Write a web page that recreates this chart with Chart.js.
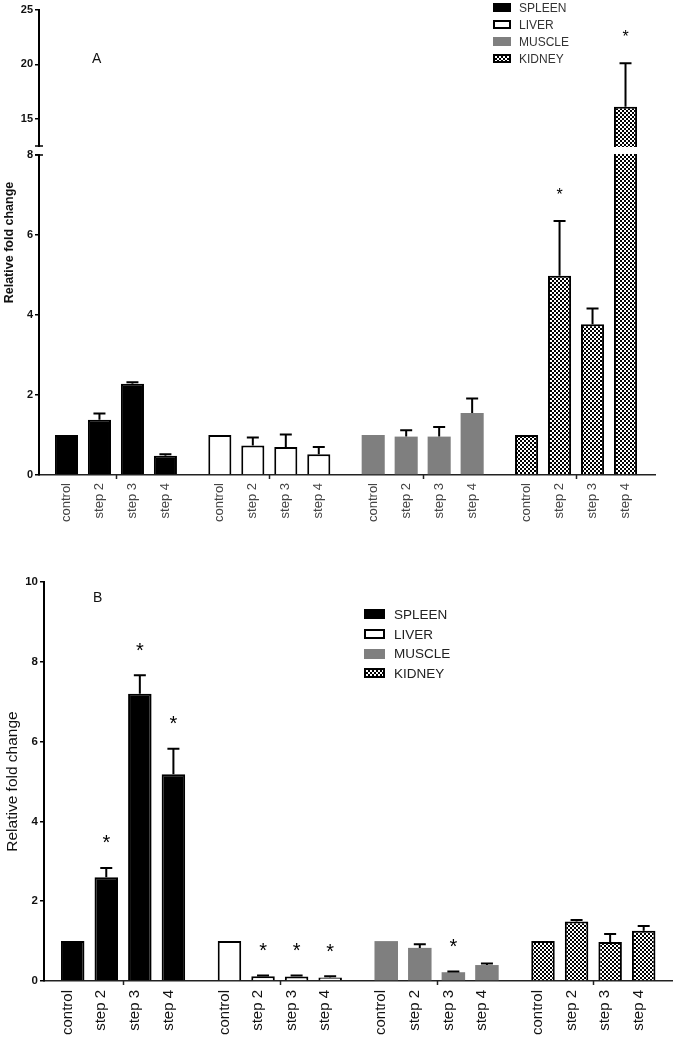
<!DOCTYPE html>
<html>
<head>
<meta charset="utf-8">
<script src="https://cdn.jsdelivr.net/npm/chart.js@4.4.1/dist/chart.umd.min.js"></script>
<style>
  html, body { margin: 0; padding: 0; background: #fff; }
  body { width: 675px; height: 1041px; position: relative; overflow: hidden;
         font-family: 'Liberation Sans', Arial, sans-serif; }
  .wrap { position: absolute; left: 0; width: 675px; }
  #wrapA { top: 0; height: 545px; }
  #wrapB { top: 545px; height: 496px; }
  .panel-letter { position: absolute; font-size: 14px; line-height: 14px; color: #111; }
  .legend-row { position: absolute; display: flex; align-items: center; white-space: nowrap; }
  .sw { box-sizing: border-box; display: inline-block; flex: none; }
  .sw.spleen { background: #000; }
  .sw.liver { background: #fff; border: 2px solid #000; }
  .sw.muscle { background: #7f7f7f; }
  .sw.kidney { border: 2px solid #000;
               background: repeating-conic-gradient(#000 0 25%, #fff 0 50%) 0 0 / 4px 4px; }
</style>
</head>
<body>
<div id="wrapA" class="wrap"><canvas id="chartA" width="675" height="545"></canvas></div>
<div id="wrapB" class="wrap"><canvas id="chartB" width="675" height="496"></canvas></div>
<div class="panel-letter" style="left:92px;top:51px;">A</div>
<div class="panel-letter" style="left:93px;top:590px;">B</div>
<div id="legendA"></div>
<div id="legendB"></div>
<script>
// ---------------- DATA ----------------
const ORGANS = ['SPLEEN', 'LIVER', 'MUSCLE', 'KIDNEY'];
const STEPS = ['control', 'step 2', 'step 3', 'step 4'];
const Y_TITLE = 'Relative fold change';

// Panel A (broken y axis 0-8 / 12.5-25)
const A_SPLEEN = [1.00, 1.38, 2.28, 0.48];
const A_SPLEEN_ERR = [0, 0.16, 0.04, 0.04];
const A_SPLEEN_SIG = [0, 0, 0, 0];
const A_LIVER = [1.00, 0.74, 0.70, 0.52];
const A_LIVER_ERR = [0, 0.20, 0.31, 0.18];
const A_LIVER_SIG = [0, 0, 0, 0];
const A_MUSCLE = [1.00, 0.96, 0.96, 1.55];
const A_MUSCLE_ERR = [0, 0.16, 0.24, 0.36];
const A_MUSCLE_SIG = [0, 0, 0, 0];
const A_KIDNEY = [1.00, 4.98, 3.77, 16.1];
const A_KIDNEY_ERR = [0, 1.37, 0.39, 4.0];
const A_KIDNEY_SIG = [0, 1, 0, 1];
const A_Y_TICKS = [0, 2, 4, 6, 8, 15, 20, 25];
const A_Y_BREAK = [8, 12.5];
const A_Y_MAX = 25;

// Panel B
const B_SPLEEN = [1.00, 2.60, 7.20, 5.18];
const B_SPLEEN_ERR = [0, 0.23, 0.46, 0.64];
const B_SPLEEN_SIG = [0, 1, 1, 1];
const B_LIVER = [1.00, 0.12, 0.11, 0.09];
const B_LIVER_ERR = [0, 0.02, 0.03, 0.03];
const B_LIVER_SIG = [0, 1, 1, 1];
const B_MUSCLE = [1.00, 0.83, 0.22, 0.40];
const B_MUSCLE_ERR = [0, 0.09, 0.02, 0.04];
const B_MUSCLE_SIG = [0, 0, 1, 0];
const B_KIDNEY = [1.00, 1.49, 0.98, 1.26];
const B_KIDNEY_ERR = [0, 0.04, 0.20, 0.12];
const B_KIDNEY_SIG = [0, 0, 0, 0];
const B_Y_TICKS = [0, 2, 4, 6, 8, 10];
const B_Y_MAX = 10;

// ---------------- STYLE / LAYOUT ----------------
const FONT = "'Liberation Sans', Arial, sans-serif";
Chart.defaults.font.family = FONT;

function checkerPattern(cell) {
  const c = document.createElement('canvas');
  c.width = c.height = cell * 2;
  const x = c.getContext('2d');
  x.fillStyle = '#fff'; x.fillRect(0, 0, cell * 2, cell * 2);
  x.fillStyle = '#000'; x.fillRect(0, 0, cell, cell); x.fillRect(cell, cell, cell, cell);
  return c.getContext('2d').createPattern(c, 'repeat');
}
const ORGAN_STYLE = [
  { fill: '#000000', bw: 2 },
  { fill: '#ffffff', bw: 2 },
  { fill: '#7f7f7f', bw: 0 },
  { fill: checkerPattern(2), bw: 2 }
];

// Broken linear scale: lower segment [min, low], gap, upper segment [high, max]
class BrokenLinearScale extends Chart.LinearScale {
  _seg() {
    const b = this.options.brk;
    const h = this.bottom - this.top;
    const lowH = h * b.lowFrac, gapH = h * b.gapFrac;
    return { lowH, gapH, upH: h - lowH - gapH, low: b.low, high: b.high };
  }
  getPixelForValue(v) {
    const s = this._seg();
    if (v <= s.low) return this.bottom - (v - this.min) / (s.low - this.min) * s.lowH;
    if (v >= s.high) return this.top + (this.max - v) / (this.max - s.high) * s.upH;
    return this.bottom - s.lowH - (v - s.low) / (s.high - s.low) * s.gapH;
  }
  getValueForPixel(p) {
    const s = this._seg();
    const yLow = this.bottom - s.lowH, yHigh = yLow - s.gapH;
    if (p >= yLow) return this.min + (this.bottom - p) / s.lowH * (s.low - this.min);
    if (p <= yHigh) return this.max - (p - this.top) / s.upH * (this.max - s.high);
    return s.low + (yLow - p) / s.gapH * (s.high - s.low);
  }
}
BrokenLinearScale.id = 'brokenLinear';
BrokenLinearScale.defaults = Chart.LinearScale.defaults;
Chart.register(BrokenLinearScale);

// Error bars, significance stars, group ticks, axis break
const annotatePlugin = {
  id: 'annotate',
  afterDatasetsDraw(chart, args, o) {
    const ctx = chart.ctx, ca = chart.chartArea;
    const xs = chart.scales.x, ys = chart.scales.y;
    ctx.save();
    ctx.strokeStyle = '#000';
    ctx.fillStyle = '#000';
    chart.data.datasets.forEach((ds, di) => {
      chart.getDatasetMeta(di).data.forEach((bar, i) => {
        const v = ds.data[i].y, e = ds.err[i];
        const capY = ys.getPixelForValue(v + e);
        if (e > 0) {
          ctx.lineWidth = o.errWidth;
          ctx.beginPath();
          ctx.moveTo(bar.x, bar.y);
          ctx.lineTo(bar.x, capY);
          ctx.moveTo(bar.x - o.capHalf, capY);
          ctx.lineTo(bar.x + o.capHalf, capY);
          ctx.stroke();
        }
        if (ds.sig[i]) {
          ctx.font = o.starFont;
          ctx.textAlign = 'center';
          ctx.textBaseline = 'alphabetic';
          ctx.fillText('*', bar.x, capY - o.starGap + o.starShift);
        }
      });
    });
    // small tick marks at the middle of each organ group
    ctx.lineWidth = 1.5;
    ctx.strokeStyle = '#222';
    o.groupCenters.forEach(v => {
      const x = Math.round(xs.getPixelForValue(v)) + 0.5;
      ctx.beginPath();
      ctx.moveTo(x, ca.bottom);
      ctx.lineTo(x, ca.bottom + o.groupTickLen);
      ctx.stroke();
    });
    // axis break
    if (o.brk) {
      const yHigh = ys.getPixelForValue(o.brk[1]);
      const yLow = ys.getPixelForValue(o.brk[0]);
      ctx.fillStyle = '#fff';
      ctx.fillRect(ca.left - 3, yHigh + 1, ca.right - ca.left + 6, yLow - yHigh - 2);
      ctx.strokeStyle = '#000';
      ctx.lineWidth = 1.5;
      [yHigh, yLow].forEach(y => {
        ctx.beginPath();
        ctx.moveTo(ca.left - 4, y);
        ctx.lineTo(ca.left + 4, y);
        ctx.stroke();
      });
    }
    ctx.restore();
  }
};

function buildPanel(canvasId, p) {
  const series = [
    [p.vals[0], p.errs[0], p.sigs[0]],
    [p.vals[1], p.errs[1], p.sigs[1]],
    [p.vals[2], p.errs[2], p.sigs[2]],
    [p.vals[3], p.errs[3], p.sigs[3]]
  ];
  const pos = (g, i) => g * p.stride + i;
  const tickPos = [], tickText = [];
  ORGANS.forEach((_, g) => STEPS.forEach((s, i) => { tickPos.push(pos(g, i)); tickText.push(s); }));
  const groupCenters = ORGANS.map((_, g) => pos(g, 1.5));

  const datasets = series.map(([vals, errs, sigs], g) => ({
    label: ORGANS[g],
    data: vals.map((v, i) => ({ x: pos(g, i), y: v })),
    err: errs,
    sig: sigs,
    backgroundColor: ORGAN_STYLE[g].fill,
    borderColor: '#000',
    borderWidth: ORGAN_STYLE[g].bw,
    borderSkipped: 'start',
    grouped: false,
    barPercentage: 0.7,
    categoryPercentage: 1.0
  }));

  const yScale = {
    type: p.brk ? 'brokenLinear' : 'linear',
    min: 0,
    max: p.yMax,
    afterBuildTicks: axis => { axis.ticks = p.yTicks.map(v => ({ value: v })); },
    afterFit: s => { s.width = p.yAxisWidth; },
    title: { display: true, text: Y_TITLE, color: '#111',
             font: { size: p.yTitleSize, weight: p.yTitleWeight }, padding: { top: p.yTitlePad, bottom: 0 } },
    ticks: { color: '#111', padding: 2, font: { size: p.yTickSize, weight: 'bold' } },
    grid: { drawOnChartArea: false, drawTicks: true, tickLength: 4, color: '#000', lineWidth: 1.5 },
    border: { display: true, color: '#000', width: 2 }
  };
  if (p.brk) yScale.brk = { low: p.brk[0], high: p.brk[1], lowFrac: p.lowFrac, gapFrac: p.gapFrac };

  return new Chart(document.getElementById(canvasId), {
    type: 'bar',
    data: { datasets },
    options: {
      responsive: false,
      animation: false,
      devicePixelRatio: 1,
      layout: { padding: p.padding },
      plugins: {
        legend: { display: false },
        tooltip: { enabled: false },
        annotate: {
          errWidth: 2, capHalf: 6,
          starFont: p.starSize + 'px ' + FONT, starGap: 30, starShift: p.starSize * 0.57,
          groupCenters, groupTickLen: 4, brk: p.brk
        }
      },
      scales: {
        x: {
          type: 'linear',
          offset: false,
          min: pos(0, 0) - p.padLeftSlots,
          max: pos(3, 3) + p.padRightSlots,
          afterBuildTicks: axis => { axis.ticks = tickPos.map(v => ({ value: v })); },
          afterFit: s => { s.height = p.xAxisHeight; },
          ticks: {
            autoSkip: false, maxRotation: 90, minRotation: 90,
            padding: p.xTickPad, labelOffset: p.xLabelOffset,
            color: p.xTickColor, font: { size: p.xTickSize },
            callback: (v, i) => tickText[i]
          },
          grid: { offset: false, drawOnChartArea: false, drawTicks: true, tickLength: 4, color: 'rgba(0,0,0,0)' },
          border: { display: true, color: '#222', width: 1.5 }
        },
        y: yScale
      }
    },
    plugins: [annotatePlugin]
  });
}

buildPanel('chartA', {
  vals: [A_SPLEEN, A_LIVER, A_MUSCLE, A_KIDNEY],
  errs: [A_SPLEEN_ERR, A_LIVER_ERR, A_MUSCLE_ERR, A_KIDNEY_ERR],
  sigs: [A_SPLEEN_SIG, A_LIVER_SIG, A_MUSCLE_SIG, A_KIDNEY_SIG],
  yTicks: A_Y_TICKS, yMax: A_Y_MAX, brk: A_Y_BREAK, lowFrac: 320 / 465, gapFrac: 9 / 465,
  stride: 4.65, padLeftSlots: 0.833, padRightSlots: 0.894,
  padding: { left: 0, right: 20, top: 10, bottom: 0 },
  yAxisWidth: 39, xAxisHeight: 70,
  yTitleSize: 12.5, yTitleWeight: 'bold', yTitlePad: 2, yTickSize: 11,
  xTickSize: 13, xTickColor: '#444', xTickPad: 4, xLabelOffset: 0,
  starSize: 16
});

buildPanel('chartB', {
  vals: [B_SPLEEN, B_LIVER, B_MUSCLE, B_KIDNEY],
  errs: [B_SPLEEN_ERR, B_LIVER_ERR, B_MUSCLE_ERR, B_KIDNEY_ERR],
  sigs: [B_SPLEEN_SIG, B_LIVER_SIG, B_MUSCLE_SIG, B_KIDNEY_SIG],
  yTicks: B_Y_TICKS, yMax: B_Y_MAX, brk: null,
  stride: 4.67, padLeftSlots: 0.855, padRightSlots: 0.843,
  padding: { left: 0, right: 3, top: 37, bottom: 0 },
  yAxisWidth: 44, xAxisHeight: 60,
  yTitleSize: 15.5, yTitleWeight: 'normal', yTitlePad: 3, yTickSize: 11.5,
  xTickSize: 15, xTickColor: '#111', xTickPad: 5, xLabelOffset: -5,
  starSize: 20
});

// HTML legends
function buildLegend(id, cfg) {
  const host = document.getElementById(id);
  ORGANS.forEach((name, g) => {
    const row = document.createElement('div');
    row.className = 'legend-row';
    row.style.left = cfg.left + 'px';
    row.style.top = (cfg.firstCenter + g * cfg.step - 10) + 'px';
    row.style.height = '20px';
    row.style.fontSize = cfg.fontSize + 'px';
    row.style.color = cfg.color;
    const sw = document.createElement('span');
    sw.className = 'sw ' + name.toLowerCase();
    sw.style.width = cfg.boxW + 'px';
    sw.style.height = cfg.boxH + 'px';
    sw.style.marginRight = cfg.gap + 'px';
    const tx = document.createElement('span');
    tx.textContent = name;
    row.appendChild(sw); row.appendChild(tx);
    host.appendChild(row);
  });
}
buildLegend('legendA', { left: 493, firstCenter: 7.5, step: 17, fontSize: 12, color: '#333', boxW: 18, boxH: 9, gap: 8 });
buildLegend('legendB', { left: 364, firstCenter: 614.3, step: 19.7, fontSize: 13.5, color: '#222', boxW: 21, boxH: 10, gap: 9 });
</script>
</body>
</html>
